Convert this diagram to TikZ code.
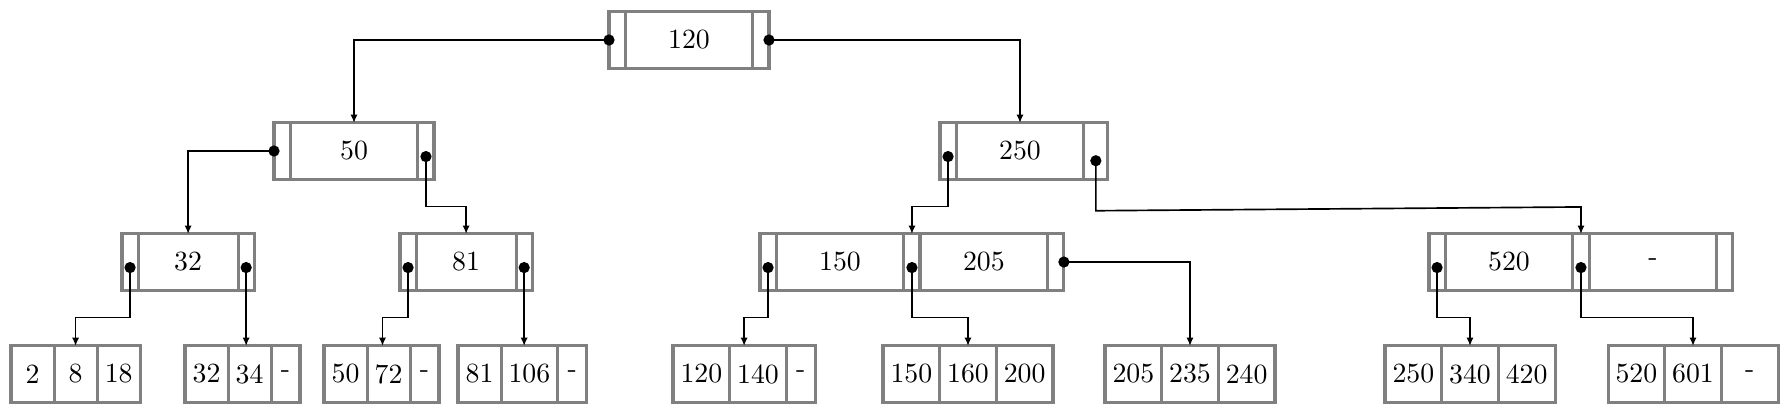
\documentclass[tikz,border=0pt]{standalone}
\usepackage{amsmath}
\usepackage{xcolor}
\usepackage{tikz}
\usetikzlibrary{arrows.meta}
\usetikzlibrary{positioning, calc}

\begin{document}
\begin{tikzpicture}[x=0.36pt, y=-0.36pt,
    cell/.style={draw=gray, line width=1.1pt, inner sep=0pt, inner xsep=2.7pt, outer sep=0pt, minimum height=20.2pt},
    ptr/.style={cell, minimum width=5.8pt},
    key/.style={cell, minimum width=46pt},
    keyn/.style={cell, minimum width=36pt},
    lf/.style={cell, minimum width=15.5pt},
    lfw/.style={cell, minimum width=20.4pt},
    nil/.style={cell, minimum width=10.4pt},
    link/.style={{Circle[length=4pt]}-{Latex[length=3pt,width=2.6pt]}, line width=0.6pt, shorten <=-2pt}]
                \useasboundingbox (0,0) rectangle (1790,412);
                % Root
                \node[ptr, anchor=west] (r-l) at (609,40) {};
                \node[key, right=0pt of r-l] (r-k) {120};
                \node[ptr, right=0pt of r-k] (r-r) {};
                % Level 2
                \node[ptr, anchor=west] (n50-l) at (274,151) {};
                \node[key, right=0pt of n50-l] (n50-k) {50};
                \node[ptr, right=0pt of n50-k] (n50-r) {};
                \node[ptr, anchor=west] (n250-l) at (940,151) {};
                \node[key, right=0pt of n250-l] (n250-k) {250};
                \node[ptr, minimum width=8.6pt, right=0pt of n250-k] (n250-r) {};
                % Level 3
                \node[ptr, anchor=west] (n32-l) at (122,262) {};
                \node[keyn, right=0pt of n32-l] (n32-k) {32};
                \node[ptr, right=0pt of n32-k] (n32-r) {};
                \node[ptr, anchor=west] (n81-l) at (400,262) {};
                \node[keyn, right=0pt of n81-l] (n81-k) {81};
                \node[ptr, right=0pt of n81-k] (n81-r) {};
                \node[ptr, anchor=west] (n150-l) at (760,262) {};
                \node[key, right=0pt of n150-l] (n150-a) {150};
                \node[ptr, right=0pt of n150-a] (n150-m) {};
                \node[key, right=0pt of n150-m] (n150-b) {205};
                \node[ptr, right=0pt of n150-b] (n150-r) {};
                \node[ptr, anchor=west] (n520-l) at (1429,262) {};
                \node[key, right=0pt of n520-l] (n520-a) {520};
                \node[ptr, right=0pt of n520-a] (n520-m) {};
                \node[key, right=0pt of n520-m] (n520-b) {-};
                \node[ptr, right=0pt of n520-b] (n520-r) {};
                % Leaves
                \node[lf, anchor=west] (l1-a) at (11,374) {2};
                \node[lf, right=0pt of l1-a] (l1-b) {8};
                \node[lf, right=0pt of l1-b] (l1-c) {18};
                \node[lf, anchor=west] (l2-a) at (185,374) {32};
                \node[lf, right=0pt of l2-a] (l2-b) {34};
                \node[nil, right=0pt of l2-b] (l2-c) {-};
                \node[lf, anchor=west] (l3-a) at (324,374) {50};
                \node[lf, right=0pt of l3-a] (l3-b) {72};
                \node[nil, right=0pt of l3-b] (l3-c) {-};
                \node[lf, anchor=west] (l4-a) at (458,374) {81};
                \node[lfw, right=0pt of l4-a] (l4-b) {106};
                \node[nil, right=0pt of l4-b] (l4-c) {-};
                \node[lfw, anchor=west] (l5-a) at (673,374) {120};
                \node[lfw, right=0pt of l5-a] (l5-b) {140};
                \node[nil, right=0pt of l5-b] (l5-c) {-};
                \node[lfw, anchor=west] (l6-a) at (883,374) {150};
                \node[lfw, right=0pt of l6-a] (l6-b) {160};
                \node[lfw, right=0pt of l6-b] (l6-c) {200};
                \node[lfw, anchor=west] (l7-a) at (1105,374) {205};
                \node[lfw, right=0pt of l7-a] (l7-b) {235};
                \node[lfw, right=0pt of l7-b] (l7-c) {240};
                \node[lfw, anchor=west] (l8-a) at (1385,374) {250};
                \node[lfw, right=0pt of l8-a] (l8-b) {340};
                \node[lfw, right=0pt of l8-b] (l8-c) {420};
                \node[lfw, anchor=west] (l9-a) at (1608,374) {520};
                \node[lfw, right=0pt of l9-a] (l9-b) {601};
                \node[lfw, right=0pt of l9-b] (l9-c) {-};
                % Pointers root -> level 2
                \draw[link] (r-l.west) -| (n50-k.north);
                \draw[link] (r-r.east) -| (n250-k.north);
                % Pointers level 2 -> level 3
                \draw[link] (n50-l.west) -| (n32-k.north);
                \draw[link] ([yshift=-2pt]n50-r.center) -- ++(0,50) -| (n81-k.north);
                \draw[link] ([yshift=-2pt]n250-l.center) -- ++(0,50) -| (n150-m.north);
                \draw[link] ([yshift=-3.5pt]n250-r.center) -- ++(0,50) -- ($(n520-m.north)+(0,-27)$) -- (n520-m.north);
                % Pointers level 3 -> leaves
                \draw[link] ([yshift=-2pt]n32-l.center) -- ++(0,50) -| (l1-b.north);
                \draw[link] ([yshift=-2pt]n32-r.center) -- (n32-r.center |- l2-b.north);
                \draw[link] ([yshift=-2pt]n81-l.center) -- ++(0,50) -| ([xshift=-2.2pt]l3-b.north);
                \draw[link] ([yshift=-2pt]n81-r.center) -- (n81-r.center |- l4-b.north);
                \draw[link] ([yshift=-2pt]n150-l.center) -- ++(0,50) -| ([xshift=-5pt]l5-b.north);
                \draw[link] ([yshift=-2pt]n150-m.center) -- ++(0,50) -| (l6-b.north);
                \draw[link] (n150-r.east) -| (l7-b.north);
                \draw[link] ([yshift=-2pt]n520-l.center) -- ++(0,50) -| (l8-b.north);
                \draw[link] ([yshift=-2pt]n520-m.center) -- ++(0,50) -| (l9-b.north);
            \end{tikzpicture}
\end{document}
